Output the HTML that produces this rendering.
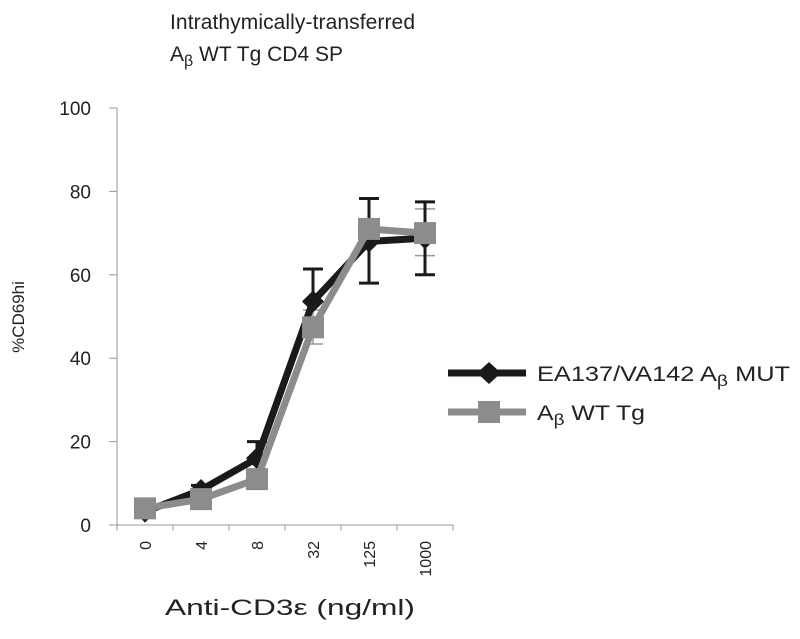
<!DOCTYPE html>
<html><head><meta charset="utf-8"><style>
body{margin:0;background:#fff;}
svg{font-family:"Liberation Sans",sans-serif;}
</style></head><body>
<svg width="800" height="634" id="c">
<text x="170" y="29" font-size="21" fill="#222" textLength="245">Intrathymically-transferred</text>
<text x="170" y="61" font-size="21" fill="#222">A<tspan font-size="16" dy="5">β</tspan><tspan dy="-5"> WT Tg  CD4 SP</tspan></text>
<text transform="translate(24,317) rotate(-90)" text-anchor="middle" font-size="17" fill="#222">%CD69hi</text>
<text x="165" y="615" font-size="22" fill="#222" textLength="250" lengthAdjust="spacingAndGlyphs">Anti-CD3ε (ng/ml)</text>
<g id="axes"></g><g id="marks"></g>
<g>
<line x1="448" y1="373" x2="526" y2="373" stroke="#1a1a1a" stroke-width="7"/>
<polygon points="477,373 489,362 501,373 489,384" fill="#1a1a1a"/>
<text x="537" y="381" font-size="21" fill="#222" textLength="253" lengthAdjust="spacingAndGlyphs">EA137/VA142 A<tspan font-size="16" dy="5">β</tspan><tspan dy="-5"> MUT</tspan></text>
<line x1="448" y1="412" x2="526" y2="412" stroke="#8c8c8c" stroke-width="7"/>
<rect x="478" y="401" width="22" height="22" fill="#8c8c8c"/>
<text x="537" y="420" font-size="21" fill="#222" textLength="108" lengthAdjust="spacingAndGlyphs">A<tspan font-size="16" dy="5">β</tspan><tspan dy="-5"> WT Tg</tspan></text>
</g>
</svg>
<script>
const categories=["0","4","8","32","125","1000"];
const yTicks=[0,20,40,60,80,100];
const mutValues=[3.2,8.4,16,53.6,68,68.8];
const mutErrLow=[3.2,8.4,16,53.6,58,60];
const mutErrHigh=[3.2,9.5,20,61.4,78.3,77.5];
const wtValues=[4,6.2,11,47.4,71,70];
const wtErrLow=[4,6.2,11,43.4,71,64.6];
const wtErrHigh=[4,6.2,11,51.6,71,75.8];
const NS="http://www.w3.org/2000/svg";
const x0=117,catW=56,yBase=525,yTop=108;
function xS(i){return x0+catW*(i+0.5);}
function yS(v){return yBase-(v/100)*(yBase-yTop);}
function mk(tag,attrs,parent){const e=document.createElementNS(NS,tag);for(const k in attrs)e.setAttribute(k,attrs[k]);parent.appendChild(e);return e;}
const ax=document.getElementById('axes'),mg=document.getElementById('marks');
let l=mk('line',{x1:x0,y1:yTop,x2:x0,y2:yBase,stroke:'#999','stroke-width':1},ax);


l=mk('line',{x1:x0,y1:yBase,x2:x0+catW*categories.length,y2:yBase,stroke:'#999','stroke-width':1},ax);


yTicks.forEach(v=>{const y=yS(v);
mk('line',{x1:x0-8,y1:y,x2:x0,y2:y,stroke:'#999'},ax);
const t=mk('text',{x:x0-26,y:y+7,'text-anchor':'end','font-size':19,fill:'#222'},ax);t.textContent=v;

});
for(let i=0;i<=categories.length;i++){const x=x0+catW*i;mk('line',{x1:x,y1:yBase,x2:x,y2:yBase+6,stroke:'#999'},ax);}
categories.forEach((c,i)=>{const x=xS(i)+6;const t=mk('text',{transform:`translate(${x},${541}) rotate(-90)`,'text-anchor':'end','font-size':16,fill:'#222'},ax);t.textContent=c;

});
function errs(lo,hi,col,w,cap){lo.forEach((v,i)=>{const x=xS(i);if(hi[i]===lo[i])return;
const g=mk('g',{stroke:col,'stroke-width':w},mg);


mk('line',{x1:x,y1:yS(lo[i]),x2:x,y2:yS(hi[i])},g);
mk('line',{x1:x-cap,y1:yS(lo[i]),x2:x+cap,y2:yS(lo[i])},g);
mk('line',{x1:x-cap,y1:yS(hi[i]),x2:x+cap,y2:yS(hi[i])},g);});}
errs(wtErrLow,wtErrHigh,'#999',1.5,10);
errs(mutErrLow,mutErrHigh,'#1a1a1a',3,10);
let p=mk('polyline',{points:mutValues.map((v,i)=>xS(i)+','+yS(v)).join(' '),fill:'none',stroke:'#1a1a1a','stroke-width':7,'stroke-linejoin':'round'},mg);


mutValues.forEach((v,i)=>{const x=xS(i),y=yS(v);const d=mk('polygon',{points:`${x-11},${y} ${x},${y-11} ${x+11},${y} ${x},${y+11}`,fill:'#1a1a1a'},mg);

});
p=mk('polyline',{points:wtValues.map((v,i)=>xS(i)+','+yS(v)).join(' '),fill:'none',stroke:'#8c8c8c','stroke-width':7,'stroke-linejoin':'round'},mg);


wtValues.forEach((v,i)=>{const x=xS(i),y=yS(v);const r=mk('rect',{x:x-11,y:y-11,width:22,height:22,fill:'#8c8c8c'},mg);

});
</script>
</body></html>
